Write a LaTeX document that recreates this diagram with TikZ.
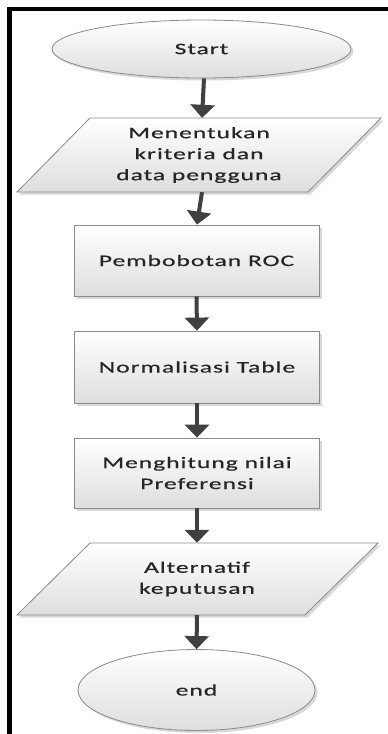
\documentclass[tikz,border=0pt]{standalone}
\usepackage{fontspec}
\newfontfamily\diafont[FakeStretch=1.6,LetterSpace=6,FakeBold=0.6]{Carlito}
\usetikzlibrary{shapes.geometric,arrows.meta,shadows}
\definecolor{arrowgray}{HTML}{404040}
\definecolor{edgegray}{HTML}{8A8A8A}
\definecolor{txtcol}{HTML}{262626}
\begin{document}
\begin{tikzpicture}[x=1pt,y=-1pt,
  shapebase/.style={draw=edgegray,line width=0.8pt,top color=white,bottom color=black!13,
    drop shadow={shadow xshift=2.5pt,shadow yshift=-2.5pt,fill=black!25,opacity=0.6}},
  txtstyle/.style={text=txtcol,font=\diafont\fontsize{16}{21}\selectfont,align=center},
  term/.style={shapebase,txtstyle,ellipse,inner sep=0pt},
  procbox/.style={shapebase,txtstyle,rectangle,inner sep=0pt,minimum width=245pt},
  iobox/.style={txtstyle,inner sep=0pt,minimum width=200pt},
  flow/.style={arrowgray,line width=4pt,-{Triangle[width=24pt,length=13pt]}},
]
\useasboundingbox (0,0) rectangle (388,734);
\fill[white] (0,0) rectangle (388,734);
% frame
\fill[black] (7,7) rectangle (388,11);
\fill[black] (7,7) rectangle (12,734);

% start
\node[term,minimum width=299pt,minimum height=58pt] (start) at (201.5,49) {Start};

% input 1
\coordinate (c1) at (199,155);
\path[shapebase] (c1) ++(-109,-37) -- ++(291,0) -- ++(-73,74) -- ++(-291,0) -- cycle;
\node[iobox,minimum height=74pt] (in1) at (c1) {Menentukan\\kriteria dan\\data pengguna};

% processes
\node[procbox,minimum height=71pt] (roc) at (196.5,260.5) {Pembobotan ROC};
\node[procbox,minimum height=72pt] (norm) at (197,367) {Normalisasi Table};
\node[procbox,minimum height=70pt] (pref) at (197,473) {Menghitung nilai\\Preferensi};

% output
\coordinate (c2) at (197,579);
\path[shapebase] (c2) ++(-107,-36) -- ++(288,0) -- ++(-73,72) -- ++(-288,0) -- cycle;
\node[iobox,minimum height=72pt] (out) at (c2) {Alternatif\\keputusan};

% end
\node[term,minimum width=237pt,minimum height=81pt] (end) at (196.5,690) {end};

% connectors
\draw[flow] ([xshift=2.5pt]start.south) -- ([xshift=3pt]in1.north);
\draw[flow] ([xshift=3pt]in1.south) -- ([xshift=0.5pt]roc.north);
\draw[flow] (roc.south) -- (norm.north);
\draw[flow] (norm.south) -- (pref.north);
\draw[flow] (pref.south) -- (out.north);
\draw[flow] (out.south) -- (end.north);
\end{tikzpicture}
\end{document}
